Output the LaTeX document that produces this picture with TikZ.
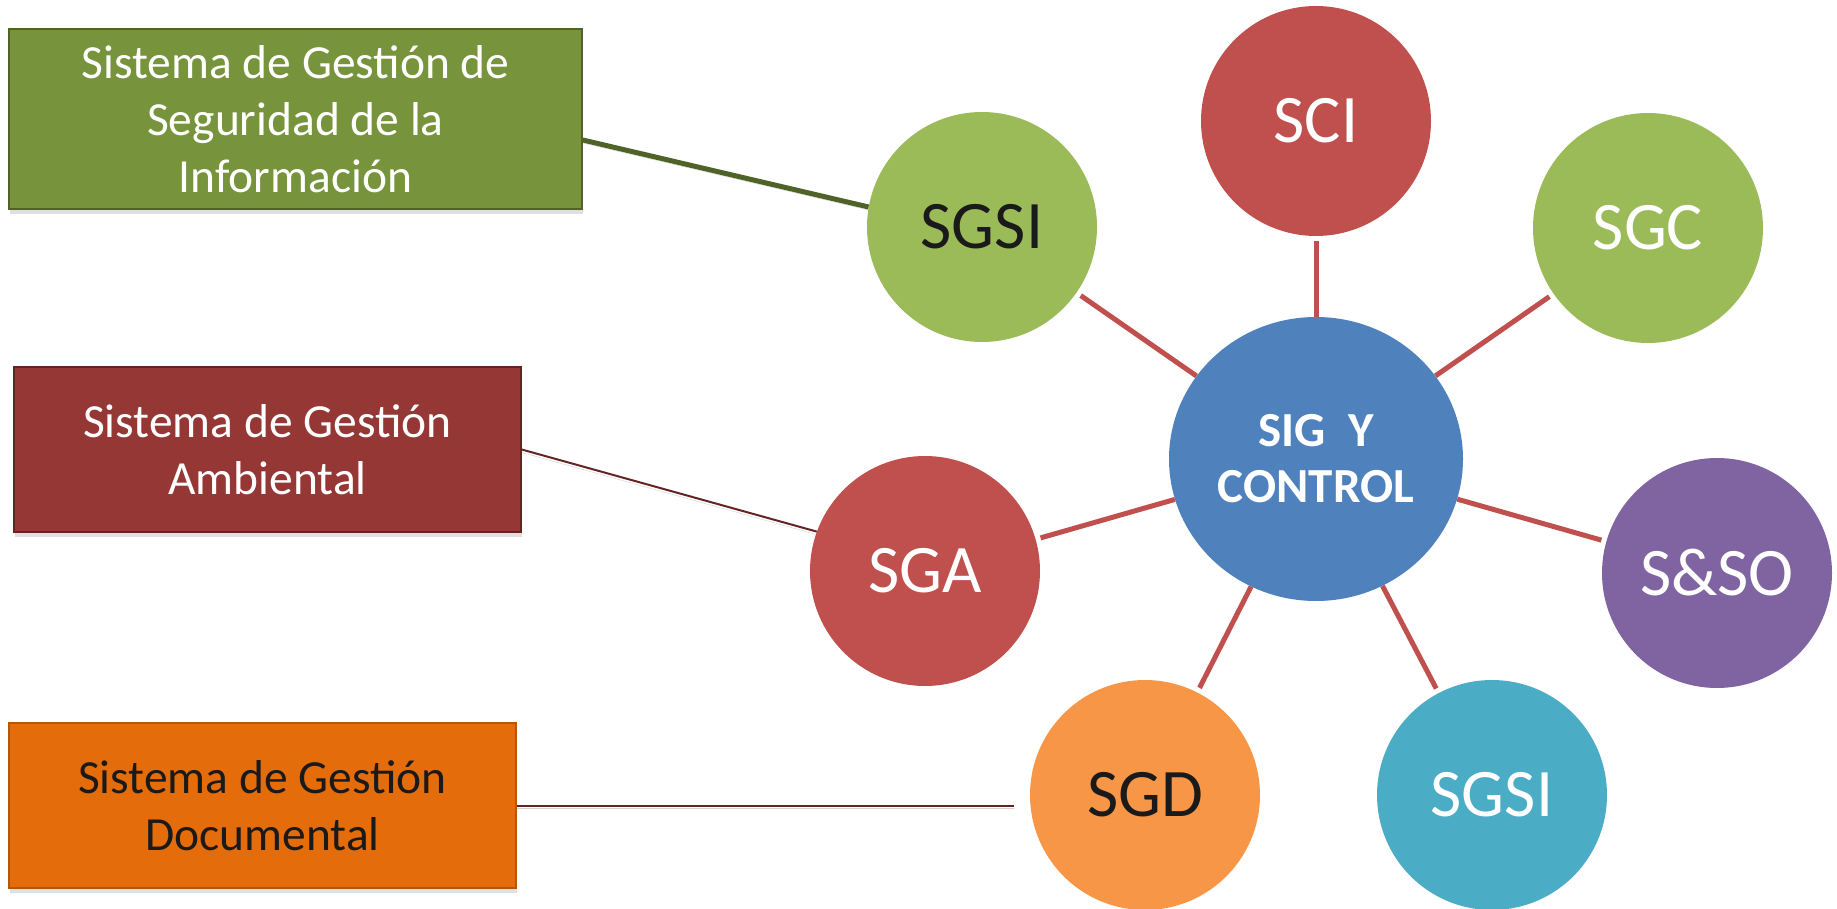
\documentclass[tikz,border=0pt]{standalone}
\usepackage{fontspec}
\setmainfont{Carlito}
\usetikzlibrary{shapes.geometric,shadows}
\definecolor{olivo}{HTML}{77933C}
\definecolor{olivoosc}{HTML}{4F6228}
\definecolor{granate}{HTML}{953735}
\definecolor{granateosc}{HTML}{632423}
\definecolor{naranja}{HTML}{E46C0A}
\definecolor{naranjaosc}{HTML}{B65708}
\definecolor{verde}{HTML}{9BBB59}
\definecolor{rojo}{HTML}{C0504D}
\definecolor{azul}{HTML}{4F81BD}
\definecolor{morado}{HTML}{8064A2}
\definecolor{celeste}{HTML}{4BACC6}
\definecolor{melon}{HTML}{F79646}
\definecolor{tinta}{HTML}{1A1A1A}
\tikzstyle{sistbox} = [rectangle, line width=1.5pt, align=center,
    minimum width=507pt, minimum height=165pt,
    font=\fontsize{47.5}{57}\selectfont,
    drop shadow={shadow xshift=1pt, shadow yshift=-5pt, opacity=0.25}]
\tikzstyle{subcirc} = [circle, minimum size=230pt, inner sep=0pt,
    text=white, font=\fontsize{68}{68}\selectfont]
\tikzstyle{centro} = [ellipse, minimum width=294pt, minimum height=284pt,
    inner sep=0pt, fill=azul, text=white, align=center,
    font=\bfseries\fontsize{49}{56}\selectfont]
\tikzstyle{enlace} = [draw=rojo, line width=5pt, shorten >=5pt]
\tikzstyle{sombra} = [preaction={draw=black, opacity=0.18,
    transform canvas={yshift=-3pt}}]

\begin{document}
\begin{tikzpicture}[x=1pt, y=-1pt]
\useasboundingbox (0,0) rectangle (1837,909);
% recuadros de la izquierda
\node [sistbox, fill=olivo, draw=olivoosc, text=white, minimum width=573pt,
    minimum height=180pt] (gsi) at (295.5,119)
    {Sistema de Gestión de\\ Seguridad de la\\ Información};
\node [sistbox, fill=granate, draw=granateosc, text=white] (gam) at (267.5,449.5)
    {Sistema de Gestión\\ Ambiental};
\node [sistbox, fill=naranja, draw=naranjaosc, text=tinta] (gdoc) at (262.5,805.5)
    {Sistema de Gestión\\ Documental};

% circulos
\node [centro] (sig) at (1316,459) {SIG\ \ Y\\ CONTROL};
\node [subcirc, fill=verde, text=tinta] (sgsi) at (982,227) {SGSI};
\node [subcirc, fill=rojo] (sci) at (1316,121) {SCI};
\node [subcirc, fill=verde] (sgc) at (1648,228) {SGC};
\node [subcirc, fill=rojo] (sga) at (925,571) {SGA};
\node [subcirc, fill=morado] (sso) at (1717,573) {S\&SO};
\node [subcirc, fill=melon, text=tinta] (sgd) at (1145,795) {SGD};
\node [subcirc, fill=celeste] (sgsib) at (1492,795) {SGSI};

% enlaces
\foreach \dest in {sgsi,sci,sgc,sga,sso,sgd,sgsib}
    \draw [enlace] (sig) -- (\dest);
\draw [sombra, draw=olivoosc, line width=5pt] ([yshift=-21pt]gsi.east) -- (sgsi.170);
\draw [sombra, draw=granateosc, line width=2pt] (gam.east) -- (sga.160);
\draw [sombra, draw=granateosc, line width=2pt, shorten >=16pt]
    (gdoc.east) -- (gdoc.east -| sgd.west);
\end{tikzpicture}
\end{document}
